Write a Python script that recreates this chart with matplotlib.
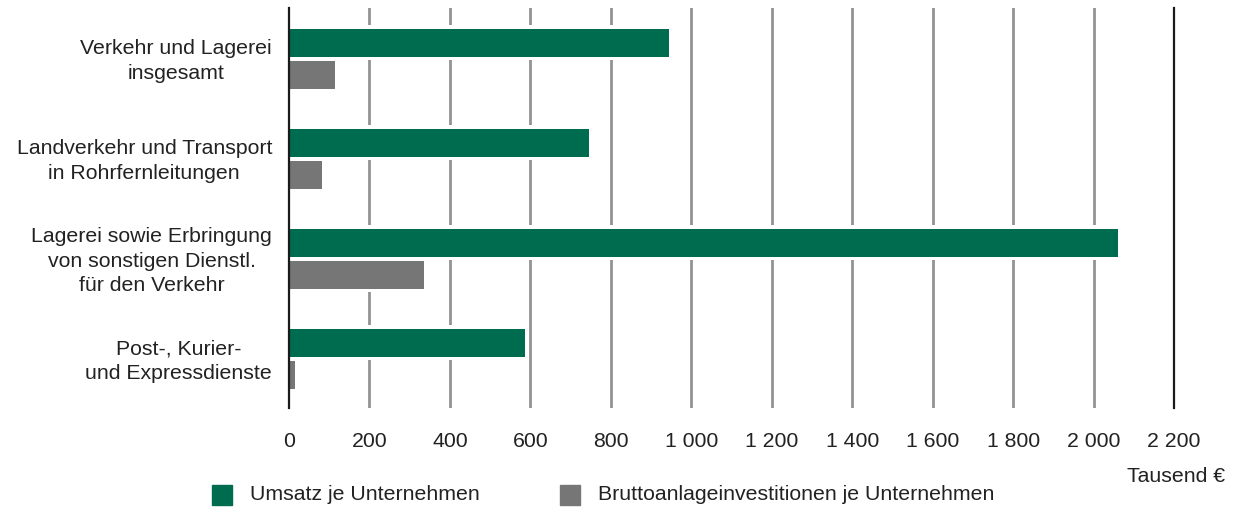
import matplotlib
matplotlib.use("Agg")
import matplotlib.pyplot as plt
from matplotlib.patches import Rectangle
from matplotlib.transforms import ScaledTranslation
import numpy as np

categories = [
    "Verkehr und Lagerei\ninsgesamt",
    "Landverkehr und Transport\nin Rohrfernleitungen",
    "Lagerei sowie Erbringung\nvon sonstigen Dienstl.\nfür den Verkehr",
    "Post-, Kurier-\nund Expressdienste",
]
series_names = ["Umsatz je Unternehmen", "Bruttoanlageinvestitionen je Unternehmen"]
umsatz = [945, 746, 2061, 587]
brutto = [114, 82, 336, 15]
xticks = [0, 200, 400, 600, 800, 1000, 1200, 1400, 1600, 1800, 2000, 2200]
xtick_labels = ["0", "200", "400", "600", "800", "1 000", "1 200", "1 400",
                "1 600", "1 800", "2 000", "2 200"]
unit_label = "Tausend €"

green = "#006c4f"
grey = "#767676"
fs = 15.3

plt.rcParams["font.family"] = ["Liberation Sans", "DejaVu Sans"]
plt.rcParams["font.size"] = fs

fig = plt.figure(figsize=(12.37, 5.09), dpi=100)
ax = fig.add_axes([289/1237, 1-408/509, (1174-289)/1237, 400/509])

y = np.arange(len(categories))
h = 0.28
off = 0.16
pad = 0.035

# gridlines
for xt in xticks[1:-1]:
    ax.axvline(xt, color="#939393", lw=2.0, zorder=1)

# white backing to interrupt gridlines
ax.barh(y - off, umsatz, height=h + 2*pad, color="white", zorder=2, lw=0)
ax.barh(y + off, brutto, height=h + 2*pad, color="white", zorder=2, lw=0)
ax.barh(y - off, umsatz, height=h, color=green, zorder=3, lw=0, label=series_names[0])
ax.barh(y + off, brutto, height=h, color=grey, zorder=3, lw=0, label=series_names[1])

ax.set_xlim(0, 2200)
ax.set_ylim(3.495, -0.51)
ax.set_yticks(y)
ax.set_yticklabels(categories, multialignment="center", linespacing=1.38)
ax.set_xticks(xticks)
ax.set_xticklabels(xtick_labels)
ax.tick_params(axis="both", length=0, colors="#222222", labelsize=fs)
ax.tick_params(axis="x", pad=17)
ax.tick_params(axis="y", pad=12.2)
for lab in ax.get_yticklabels():
    lab.set_transform(lab.get_transform() + ScaledTranslation(0, 2.5/100, fig.dpi_scale_trans))

for s in ["top", "bottom"]:
    ax.spines[s].set_visible(False)
for s in ["left", "right"]:
    ax.spines[s].set_color("#1a1a1a")
    ax.spines[s].set_linewidth(1.6)
    ax.spines[s].set_zorder(5)

fig.text(1225/1237, 1-476/509, unit_label, ha="right", va="center", fontsize=fs, color="#222222")

# legend
for x0, col, name in [(212, green, series_names[0]), (560, grey, series_names[1])]:
    fig.patches.append(Rectangle((x0/1237, 1-505/509), 20/1237, 20/509,
                                 transform=fig.transFigure, color=col, figure=fig))
    fig.text((x0+38)/1237, 1-495/509, name, ha="left", va="center", fontsize=fs, color="#222222")

fig.savefig("out.png", dpi=100, facecolor="white")
